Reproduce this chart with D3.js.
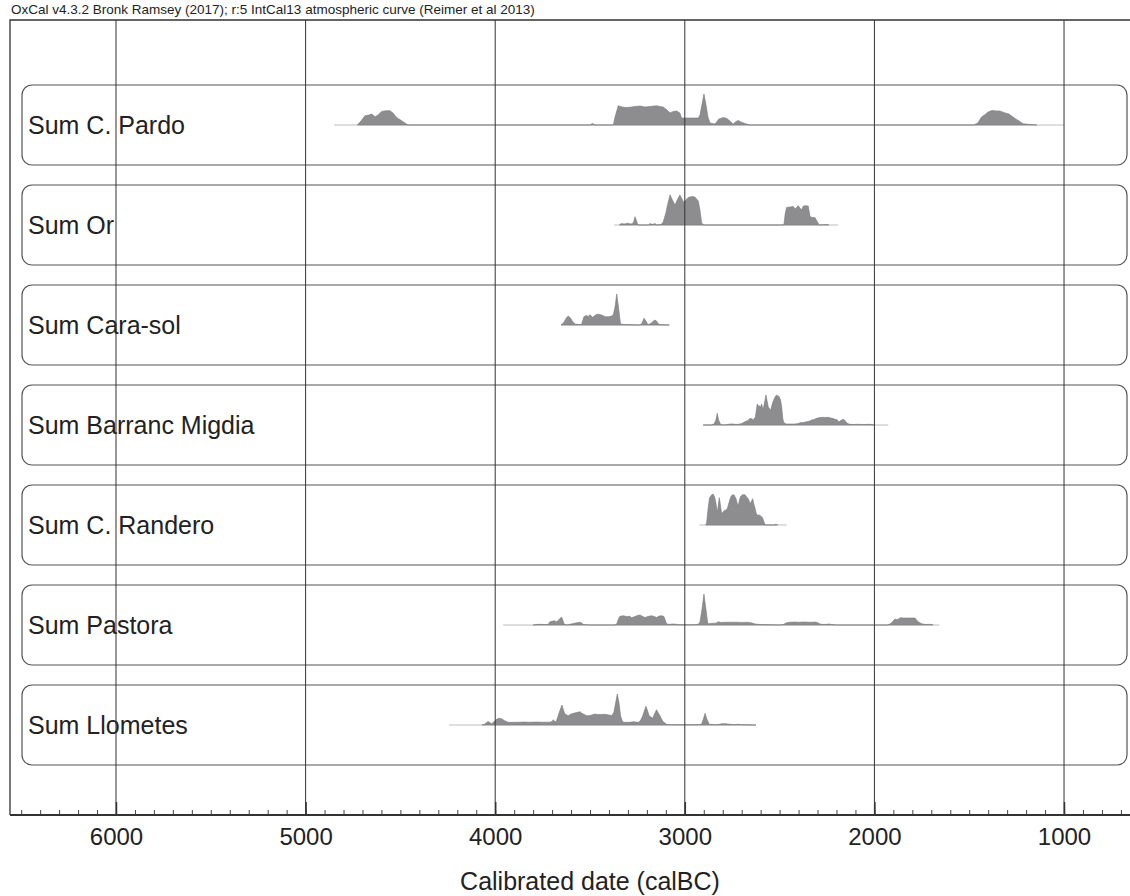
<!DOCTYPE html>
<html>
<head>
<meta charset="utf-8">
<script src="https://cdn.jsdelivr.net/npm/d3@7"></script>
<style>
  body { margin: 0; background: #fff; }
  text { font-family: "Liberation Sans", Arial, sans-serif; fill: #222; }
</style>
</head>
<body>
<svg id="chart" width="1130" height="896"></svg>
<script>
// Summed probability distributions, OxCal style
const title = "OxCal v4.3.2 Bronk Ramsey (2017); r:5 IntCal13 atmospheric curve (Reimer et al 2013)";
const xLabel = "Calibrated date (calBC)";
const majorTicks = [6000, 5000, 4000, 3000, 2000, 1000];

const names = ["Sum C. Pardo", "Sum Or", "Sum Cara-sol", "Sum Barranc Migdia",
  "Sum C. Randero", "Sum Pastora", "Sum Llometes"];

// baseline extent of each sum (calBC, start / end)
const ranges = [[4850, 1000], [3372, 2191], [3653, 3082], [2903, 1927],
  [2924, 2463], [3958, 1658], [4243, 2625]];

// [year calBC, relative probability]
const pardo = [[4727,0],[4708,4],[4687,9.3],[4666,10],[4651,11],[4634,8.3],[4618,10],[4599,13.6],
  [4576,14.3],[4555,14.3],[4539,12],[4520,7.6],[4508,6],[4493,4.3],[4476,2],[4459,0],
  [3500,0],[3488,1.5],[3472,0],
  [3377,0],[3368,8],[3351,19.3],[3331,18],[3310,17.5],[3289,17.8],[3263,18.5],[3236,19],
  [3210,18],[3184,18.5],[3149,19.3],[3131,18.5],[3114,18],[3094,15],[3078,12],[3062,13.5],
  [3043,14],[3026,12],[3017,7],[2971,7],[2929,7],[2920,10],[2910,20],[2899,31],[2888,20],
  [2878,8],[2867,2],[2841,1],[2820,6],[2797,7.5],[2778,6.5],[2762,4],[2745,1],[2730,3.5],
  [2718,4.5],[2704,3],[2683,1.5],[2656,0],
  [1478,0],[1455,2],[1435,8],[1420,10],[1400,13],[1380,14.5],[1355,14],[1338,14],[1310,12],
  [1290,11],[1276,9],[1258,6.5],[1243,4.7],[1216,1.3],[1180,0.5],[1143,0]];

const or = [[3345,0],[3335,1.5],[3320,1],[3300,1.8],[3285,1],[3275,1.5],[3268,4],[3263,8.3],
  [3256,5],[3248,0.5],[3240,0],[3190,0],[3184,1.5],[3170,0.5],[3157,1.5],[3148,0],[3125,0.5],
  [3114,3],[3100,12],[3092,19.3],[3078,30.3],[3068,26],[3052,20],[3040,25],[3026,30],
  [3015,26],[3005,22.6],[2995,25],[2982,27.6],[2960,28.5],[2947,28],[2929,24],[2920,15],
  [2911,2],[2900,0],
  [2480,0],[2477,1],[2470,12],[2463,17.6],[2445,18],[2428,18.6],[2418,16],[2402,19.3],
  [2384,15],[2375,19],[2367,19.3],[2349,19],[2340,9],[2337,8],[2325,7.5],[2314,7.6],
  [2300,3],[2291,0],[2250,0.5],[2240,0]];

const carasol = [[3653,0],[3640,2],[3625,7],[3615,9],[3603,7],[3590,3],[3579,1],[3560,0.5],
  [3545,0.5],[3539,4],[3532,8.3],[3518,9.7],[3510,8.3],[3501,10.3],[3486,7.7],[3465,10.7],
  [3450,10.5],[3439,10],[3420,8.3],[3400,8.3],[3386,9],[3377,10.3],[3368,18],[3359,31],
  [3350,18],[3339,1],[3320,0.5],[3240,0],[3228,1],[3215,6.7],[3205,4],[3195,0.5],[3185,1],
  [3170,3],[3160,5],[3149,4],[3140,1],[3125,0.3],[3082,0]];

const migdia = [[2903,0],[2860,0],[2846,1],[2836,5],[2829,11.7],[2822,5],[2811,0.5],[2790,0],
  [2760,1],[2745,1],[2730,0.5],[2715,0.8],[2700,1.5],[2683,3.3],[2666,4.5],[2656,6.7],
  [2645,6],[2639,5],[2628,8],[2625,11.7],[2618,21],[2612,19],[2607,19],[2600,18],[2595,21],
  [2590,17],[2586,16.7],[2580,22],[2572,30],[2566,24],[2560,18.3],[2553,16],[2547,15],
  [2540,20],[2533,24.3],[2524,28],[2516,30],[2508,29],[2502,28.3],[2495,25],[2489,18.3],
  [2483,6],[2477,2.3],[2465,1],[2445,1],[2420,1],[2400,1.5],[2393,2.3],[2375,2.5],[2357,3.3],
  [2340,4],[2331,5],[2318,5.5],[2305,6.7],[2287,7.5],[2270,7.7],[2260,7.5],[2244,7.7],
  [2230,7],[2217,6.5],[2205,5.5],[2199,5.7],[2192,4],[2186,3.3],[2178,4.5],[2165,5.7],
  [2155,4.5],[2147,2.3],[2135,1],[2129,0.7],[2110,0.5],[2094,0.7],[2075,0.6],[2050,0.5],
  [2024,0.7],[2000,0]];

const randero = [[2890,0],[2885,2],[2878,15],[2870,27],[2863,29],[2856,30.7],[2850,30.7],
  [2843,28.3],[2836,22],[2829,12.3],[2823,20],[2818,27.3],[2812,20],[2806,11.7],[2800,12.5],
  [2794,14],[2785,15],[2776,16.3],[2769,21],[2762,25.7],[2755,29],[2748,30.3],[2740,30],
  [2730,26.3],[2724,22],[2718,19],[2712,25],[2706,28.5],[2695,30.3],[2683,30.3],[2674,28],
  [2665,26.3],[2659,23],[2653,21.7],[2648,24],[2642,26.3],[2636,21],[2630,17],[2624,12],
  [2618,9.7],[2610,10],[2604,9.7],[2597,8.5],[2590,7.3],[2584,4],[2578,0.7],[2570,0],
  [2530,0],[2520,0.7],[2510,0]];

const pastora = [[3800,0],[3773,0.7],[3740,0.5],[3720,0.7],[3711,3.3],[3700,3.8],[3690,4.3],
  [3676,3.3],[3665,5],[3658,6.7],[3649,7.7],[3642,4],[3637,1],[3620,0],[3600,1],[3588,1.5],
  [3570,2.2],[3553,2.7],[3540,1.5],[3535,0.5],[3500,0],[3370,0],[3359,1],[3350,6],
  [3342,8.7],[3324,9.3],[3307,8.5],[3290,8.7],[3280,7.3],[3263,8.5],[3250,9.5],[3236,10],
  [3222,8.5],[3210,7.5],[3195,8.5],[3175,9.3],[3160,8.5],[3149,7.5],[3135,9],[3122,9.3],
  [3110,8.5],[3105,6],[3096,1],[3080,0.7],[3061,1],[3040,0.6],[3026,0.3],[2960,0.3],
  [2930,0.5],[2920,3],[2910,15],[2899,31],[2888,15],[2880,3],[2876,1],[2867,1.5],[2850,1.7],
  [2835,1.8],[2824,3.3],[2810,2.5],[2790,2.7],[2760,2.8],[2730,2.8],[2700,2.6],[2670,2.7],
  [2645,2],[2630,1],[2600,0.5],[2500,0],[2480,0.5],[2467,2],[2450,2.7],[2420,3],[2400,2.8],
  [2370,3],[2340,2.8],[2310,2.9],[2295,2],[2287,1],[2270,0.5],[2252,0.7],[2240,1],
  [2226,0.5],[2200,0],[1930,0],[1918,1],[1905,3],[1892,6],[1880,5.3],[1862,7.3],[1845,7],
  [1830,7],[1810,7],[1786,7],[1775,4.5],[1769,3.3],[1751,1.3],[1730,0.5],[1707,0.7],[1690,0]];

const llometes = [[4070,0],[4054,1],[4040,3.3],[4033,3.3],[4025,2],[4019,1.3],[4005,3.5],
  [3992,6],[3975,6.7],[3960,5.5],[3948,4],[3931,2.7],[3922,2.7],[3880,2.7],[3852,3],
  [3820,2.8],[3781,3],[3750,2.8],[3711,2.8],[3700,3.5],[3694,5.3],[3686,3.5],[3679,3.3],
  [3670,8],[3662,12.7],[3648,20],[3640,15],[3632,11],[3615,9.3],[3600,11],[3588,11.7],
  [3570,12.5],[3553,13.3],[3545,12],[3535,11],[3520,9.5],[3509,9.3],[3491,10],[3474,11],
  [3460,10.5],[3447,10.5],[3421,10.7],[3400,10],[3386,9.3],[3374,12.7],[3365,22],[3356,31],
  [3347,22],[3339,9.3],[3330,4],[3321,2.7],[3289,2.7],[3272,3.3],[3245,2.7],[3235,4],
  [3223,8.7],[3212,15],[3205,18.7],[3196,14],[3188,9.3],[3170,6.7],[3160,11],[3149,15.3],
  [3140,12],[3131,9.3],[3120,5],[3114,3.3],[3096,0.7],[3080,0.3],[2930,0.3],[2912,0.7],
  [2902,6],[2893,11.7],[2884,6],[2871,0.7],[2840,0.3],[2820,0.5],[2806,1.3],[2785,1.3],
  [2762,0.7],[2740,0.3],[2718,0.7],[2700,0.3],[2625,0]];

const sums = [pardo, or, carasol, migdia, randero, pastora, llometes];

// layout
const W = 1130, H = 896;
const frame = {left: 10, top: 20, bottom: 815};
const panel = {x: 22, w: 1105, h: 80, first: 85, step: 100, r: 10};
const fillcolor = "#8d8d90";

const svg = d3.select("#chart");

const x = d3.scaleLinear()
  .domain([6559, 652])
  .range([frame.left, W]);

// height of a sum above its baseline
const y = d3.scaleLinear().domain([0, 31]).range([0, 31]);

svg.append("text")
  .attr("x", frame.left + 1)
  .attr("y", 14)
  .style("font-size", "13.5px")
  .text(title);

// panels
const g = svg.append("g");
names.forEach((name, i) => {
  let top = panel.first + i * panel.step;
  let base = top + 40;
  let pg = g.append("g");
  pg.append("rect")
    .attr("x", panel.x).attr("y", top)
    .attr("width", panel.w).attr("height", panel.h)
    .attr("rx", panel.r).attr("ry", panel.r)
    .attr("fill", "none")
    .attr("stroke", "#555")
    .attr("stroke-width", 1.2);
  pg.append("line")
    .attr("x1", x(ranges[i][0])).attr("x2", x(ranges[i][1]))
    .attr("y1", base).attr("y2", base)
    .attr("stroke", "#bdbdbd")
    .attr("stroke-width", 1);
  let area = d3.area()
    .x(d => x(d[0]))
    .y0(base)
    .y1(d => base - y(d[1]));
  pg.append("path")
    .attr("d", area(sums[i]))
    .attr("fill", fillcolor)
    .attr("stroke", "#7a7a7d")
    .attr("stroke-width", 0.6);
  pg.append("text")
    .attr("x", 28)
    .attr("y", base + 9)
    .style("font-size", "25px")
    .text(name);
});

// grid lines
svg.append("g")
  .selectAll("line")
  .data(majorTicks)
  .join("line")
  .attr("x1", d => x(d)).attr("x2", d => x(d))
  .attr("y1", frame.top).attr("y2", frame.bottom)
  .attr("stroke", "#333")
  .attr("stroke-width", 1);

// frame (top + left)
svg.append("path")
  .attr("d", `M${W},${frame.top}H${frame.left}V${frame.bottom}`)
  .attr("fill", "none")
  .attr("stroke", "#333")
  .attr("stroke-width", 1.3);

// axis: minor ticks every 100 years, major every 1000
const minorTicks = d3.range(6500, 600, -100);
svg.append("g")
  .attr("transform", `translate(0,${frame.bottom})`)
  .call(d3.axisTop(x).tickValues(minorTicks).tickSize(5).tickFormat(""))
  .call(g => g.select(".domain").remove())
  .selectAll("line").attr("stroke", "#444");
svg.append("g")
  .attr("transform", `translate(0,${frame.bottom})`)
  .call(d3.axisTop(x).tickValues(majorTicks).tickSize(13).tickFormat(""))
  .call(g => g.select(".domain").remove())
  .selectAll("line").attr("stroke", "#333").attr("stroke-width", 1.5);

svg.append("g")
  .attr("transform", `translate(0,${frame.bottom})`)
  .call(d3.axisBottom(x).tickValues(majorTicks).tickSize(0).tickPadding(13).tickFormat(d3.format("d")))
  .call(g => g.select(".domain").remove())
  .selectAll("text")
  .style("font-size", "24px")
  .style("font-family", '"Liberation Sans", Arial, sans-serif')
  .attr("fill", "#222");

svg.append("line")
  .attr("x1", frame.left).attr("x2", W)
  .attr("y1", frame.bottom).attr("y2", frame.bottom)
  .attr("stroke", "#333")
  .attr("stroke-width", 2);

svg.append("text")
  .attr("x", x(3500))
  .attr("y", 890)
  .attr("text-anchor", "middle")
  .style("font-size", "25px")
  .text(xLabel);
</script>
</body>
</html>
